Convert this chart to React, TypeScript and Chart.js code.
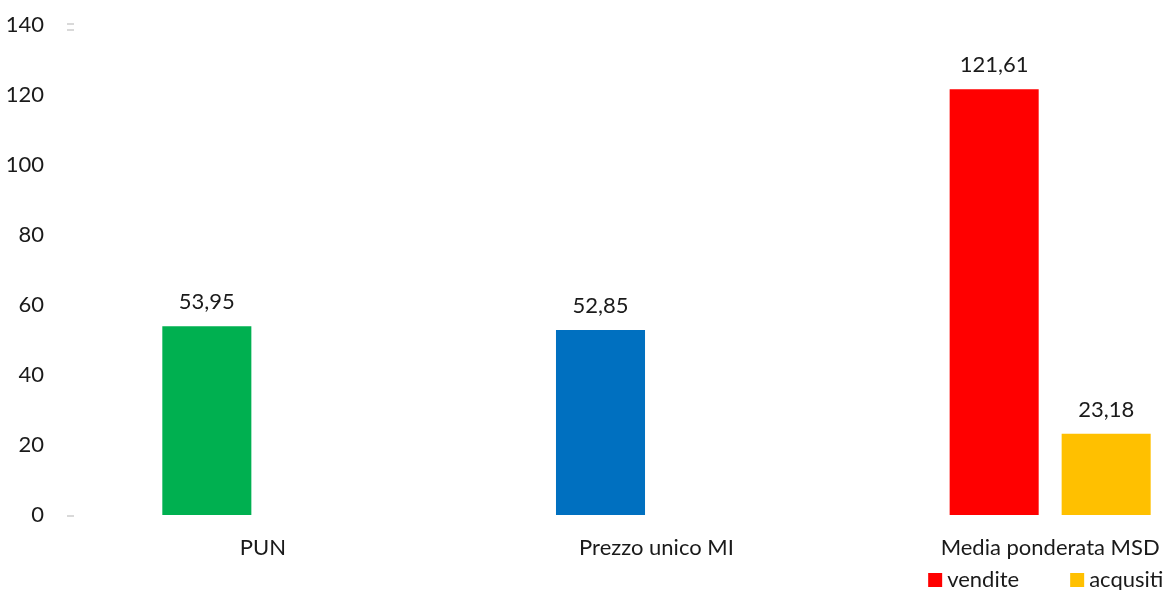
import React, { useEffect, useRef } from "react";
import { Chart, registerables } from "chart.js";

Chart.register(...registerables);

// Categories and series values
const categories = ["PUN", "Prezzo unico MI", "Media ponderata MSD"];
const venditeValues: (number | null)[] = [53.95, 52.85, 121.61];
const acquistiValues: (number | null)[] = [null, null, 23.18];
const venditeColors = ["#00B050", "#0070C0", "#FF0000"];
const acquistiColor = "#FFC000";
const legendLabels = ["vendite", "acqusiti"];
const legendColors = ["#FF0000", "#FFC000"];
const yMin = 0;
const yMax = 140;
const yStep = 20;

const FONT = "Lato, 'Open Sans', sans-serif";
const FONT_SIZE = 22;
const TEXT_COLOR = "#1a1a1a";

const fmt = (v: number) => v.toFixed(2).replace(".", ",");

// Value labels above each bar
const valueLabels = {
  id: "valueLabels",
  afterDatasetsDraw(chart: any) {
    const ctx = chart.ctx;
    ctx.save();
    ctx.font = `${FONT_SIZE}px ${FONT}`;
    ctx.fillStyle = TEXT_COLOR;
    ctx.textAlign = "center";
    ctx.textBaseline = "alphabetic";
    chart.data.datasets.forEach((ds: any, di: number) => {
      const meta = chart.getDatasetMeta(di);
      meta.data.forEach((el: any, i: number) => {
        const v = ds.data[i];
        if (v === null || v === undefined) return;
        ctx.fillText(fmt(v), el.x, el.y - 17);
      });
    });
    ctx.restore();
  },
};

// Small axis stubs at the left edge and the bottom legend
const extras = {
  id: "extras",
  afterDraw(chart: any) {
    const ctx = chart.ctx;
    const area = chart.chartArea;
    ctx.save();
    ctx.fillStyle = "#d9d9d9";
    const x0 = area.left + 1;
    ctx.fillRect(x0, area.top - 2, 7, 2);
    ctx.fillRect(x0, area.top + 4, 7, 2);
    ctx.fillRect(x0, area.bottom, 7, 2);

    // legend under the last category
    const xs = chart.scales.x;
    const cx = xs.getPixelForValue(categories.length - 1);
    ctx.font = `${FONT_SIZE}px ${FONT}`;
    ctx.textBaseline = "alphabetic";
    ctx.textAlign = "left";
    const box = 14;
    const offsets = [-122, 20];
    const baseline = 587;
    legendLabels.forEach((label, i) => {
      const x = cx + offsets[i];
      ctx.fillStyle = legendColors[i];
      ctx.fillRect(x, baseline - 14, box, box);
      ctx.fillStyle = TEXT_COLOR;
      ctx.fillText(label, x + box + 5, baseline);
    });
    ctx.restore();
  },
};

export default function App() {
  const canvasRef = useRef<HTMLCanvasElement | null>(null);

  useEffect(() => {
    if (!canvasRef.current) return;
    const chart = new Chart(canvasRef.current, {
      type: "bar",
      data: {
        labels: categories,
        datasets: [
          {
            label: legendLabels[0],
            data: venditeValues,
            backgroundColor: venditeColors,
            categoryPercentage: 0.569,
            barPercentage: 0.795,
          },
          {
            label: legendLabels[1],
            data: acquistiValues,
            backgroundColor: acquistiColor,
            categoryPercentage: 0.569,
            barPercentage: 0.795,
          },
        ],
      },
      options: {
        responsive: false,
        animation: false,
        devicePixelRatio: 1,
        layout: { padding: { top: 25, left: 0, right: 0, bottom: 0 } },
        plugins: {
          legend: { display: false },
          tooltip: { enabled: false },
        },
        scales: {
          x: {
            grid: { display: false, drawTicks: false, tickLength: 0 },
            border: { display: false },
            ticks: {
              color: TEXT_COLOR,
              font: { family: FONT, size: FONT_SIZE },
              padding: 20,
              maxRotation: 0,
              autoSkip: false,
            },
            afterFit(scale: any) {
              scale.height = 75;
              scale.paddingLeft = 0;
              scale.paddingRight = 0;
            },
          },
          y: {
            min: yMin,
            max: yMax,
            grid: { display: false, drawTicks: false, tickLength: 0 },
            border: { display: false },
            ticks: {
              stepSize: yStep,
              color: TEXT_COLOR,
              font: { family: FONT, size: FONT_SIZE },
              padding: 22,
            },
            afterFit(scale: any) {
              scale.width = 66;
              scale.paddingTop = 0;
              scale.paddingBottom = 0;
            },
          },
        },
      },
      plugins: [valueLabels, extras],
    });
    return () => chart.destroy();
  }, []);

  return (
    <div
      style={{
        position: "fixed",
        left: 0,
        top: 0,
        width: 1166,
        height: 590,
        overflow: "hidden",
        background: "#ffffff",
      }}
    >
      <canvas ref={canvasRef} width={1247} height={590} style={{ display: "block" }} />
    </div>
  );
}
